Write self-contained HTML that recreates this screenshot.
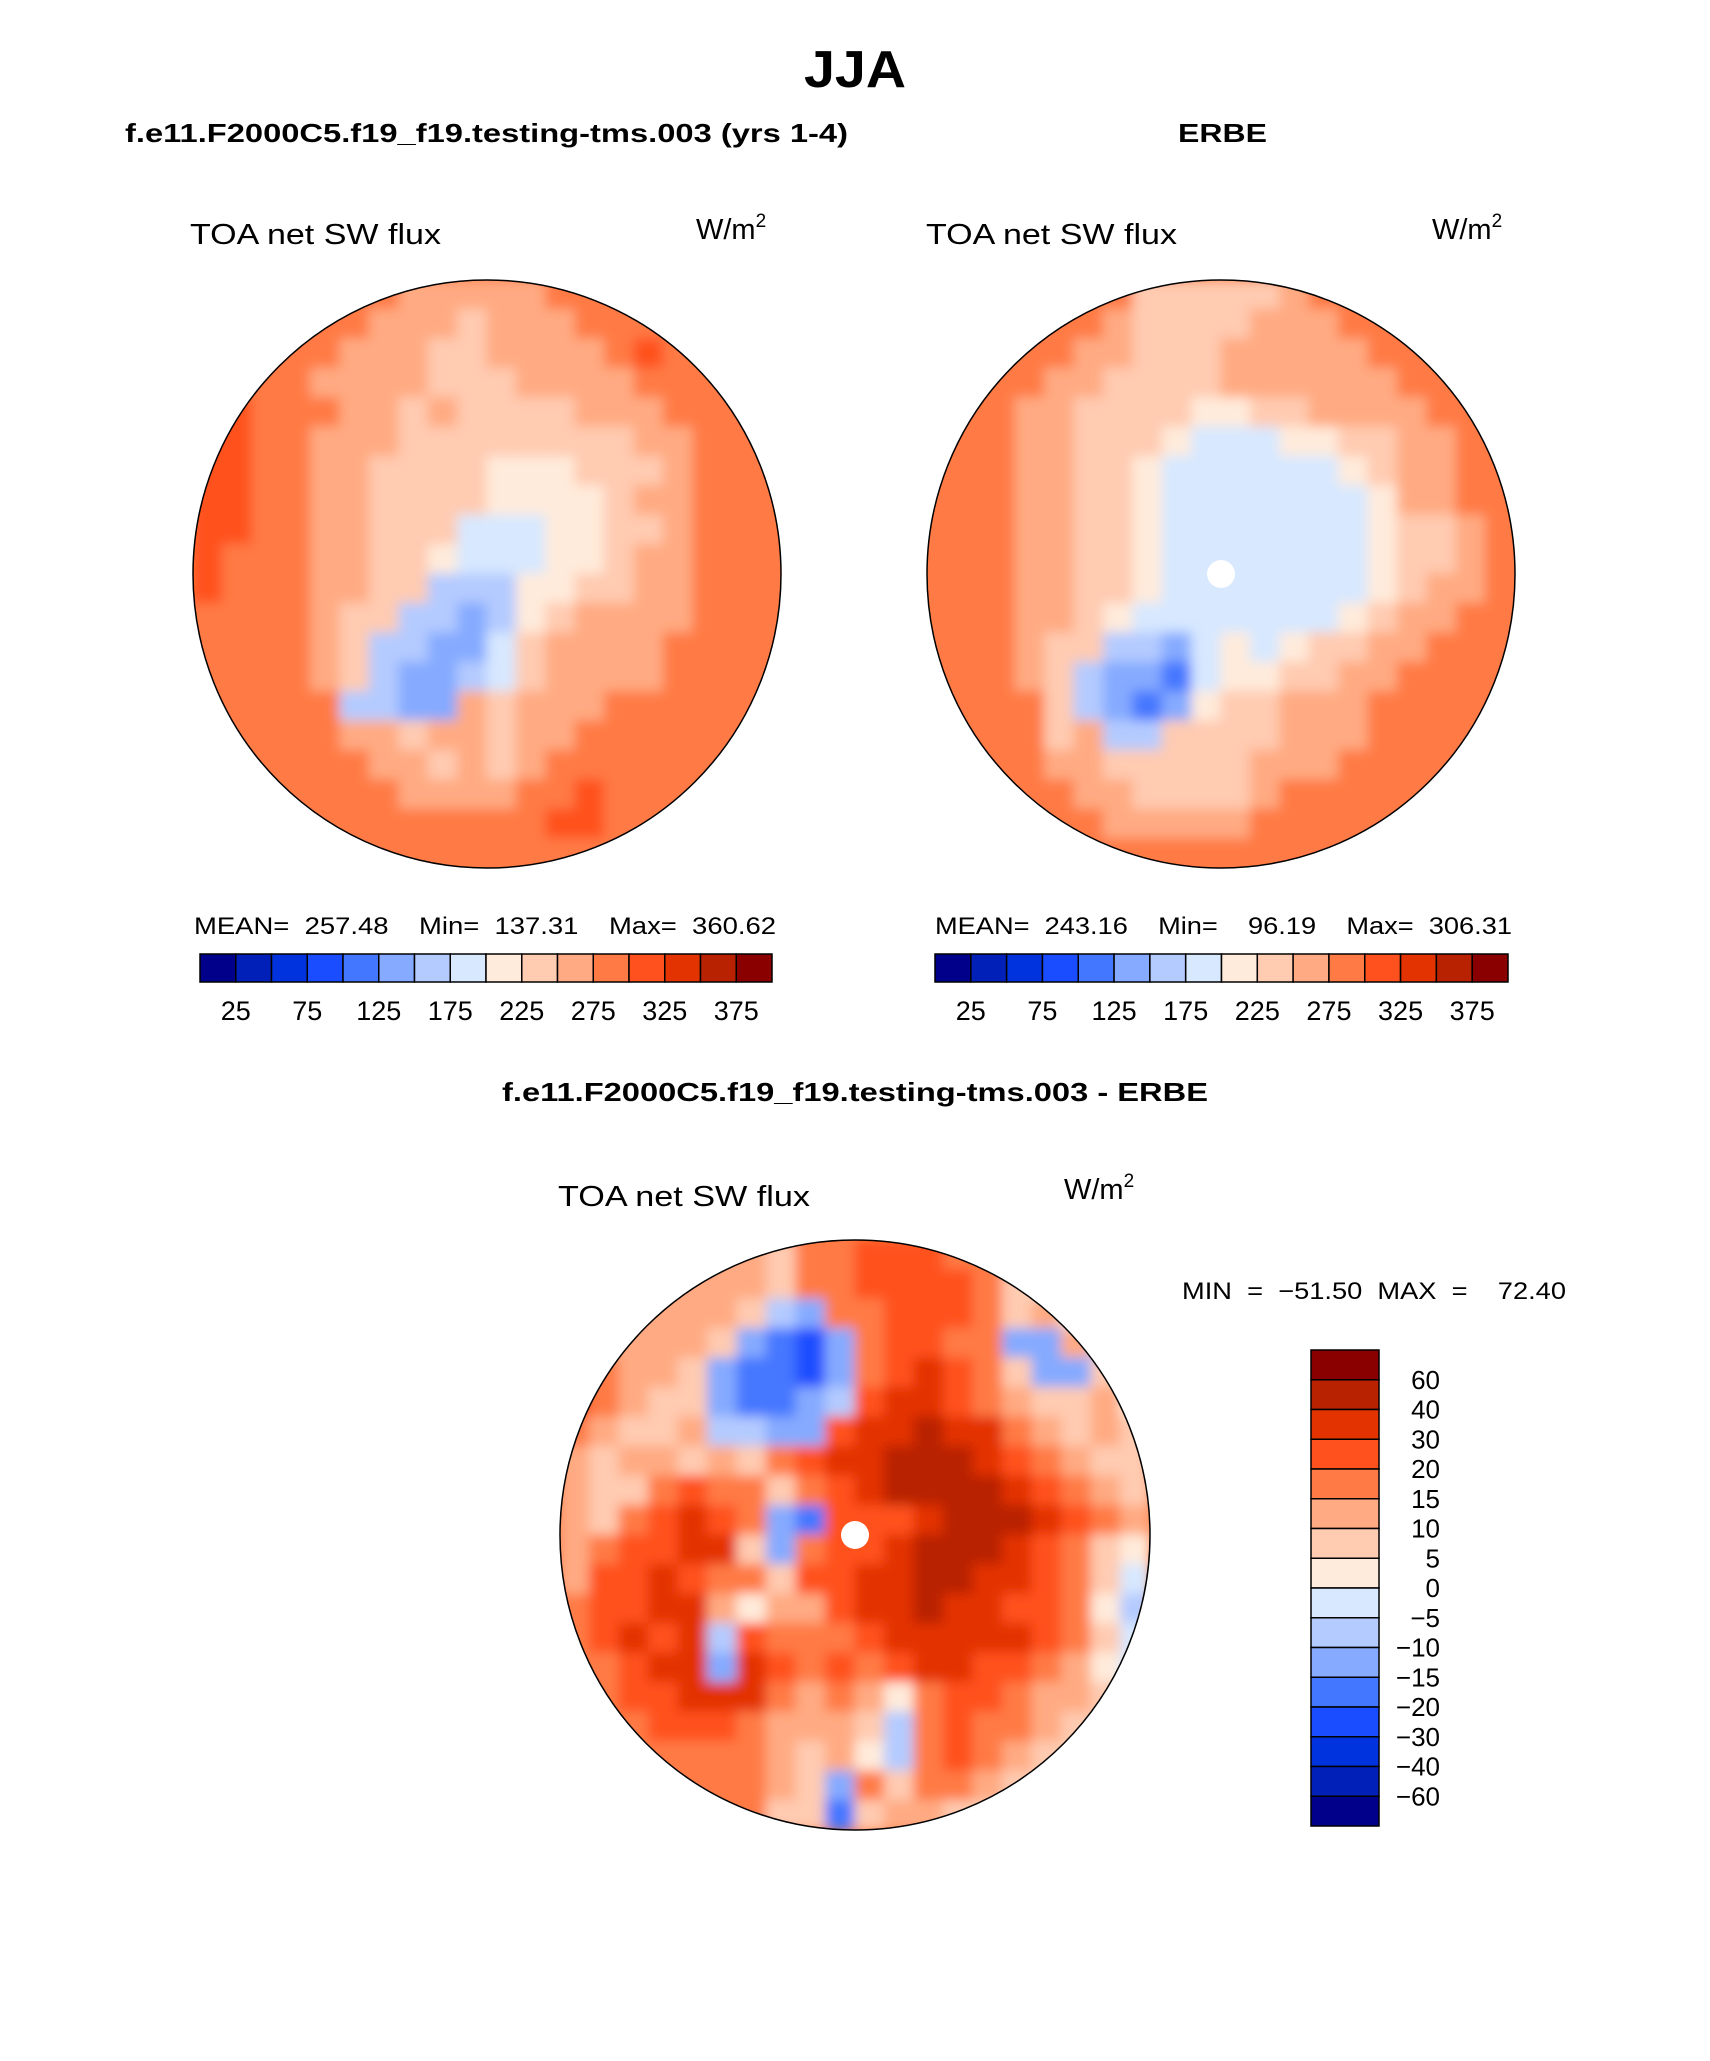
<!DOCTYPE html>
<html><head><meta charset="utf-8"><style>
html,body{margin:0;padding:0;background:#fff}
svg{display:block}
text{font-family:"Liberation Sans",sans-serif;fill:#000;white-space:pre}
</style></head><body>
<svg id="fig" width="1710" height="2061" viewBox="0 0 1710 2061" xmlns="http://www.w3.org/2000/svg" xml:space="preserve">
<defs>
<filter id="soft" filterUnits="userSpaceOnUse" x="0" y="0" width="1710" height="2061"><feGaussianBlur stdDeviation="6"/></filter>
<clipPath id="c1"><circle cx="487" cy="574" r="294"/></clipPath>
<clipPath id="c2"><circle cx="1221" cy="574" r="294"/></clipPath>
<clipPath id="c3"><circle cx="855" cy="1535" r="295"/></clipPath>
</defs>
<text x="855" y="87" text-anchor="middle" font-size="52" font-weight="bold" textLength="102" lengthAdjust="spacingAndGlyphs">JJA</text>
<text x="125" y="142" font-size="26" font-weight="bold" textLength="723" lengthAdjust="spacingAndGlyphs">f.e11.F2000C5.f19_f19.testing-tms.003 (yrs 1-4)</text>
<text x="1178" y="142" font-size="26" font-weight="bold" textLength="89" lengthAdjust="spacingAndGlyphs">ERBE</text>
<text x="190" y="244" font-size="29" textLength="251" lengthAdjust="spacingAndGlyphs">TOA net SW flux</text>
<text x="696" y="239" font-size="29">W/m<tspan font-size="19" dy="-12">2</tspan></text>
<text x="926" y="244" font-size="29" textLength="251" lengthAdjust="spacingAndGlyphs">TOA net SW flux</text>
<text x="1432" y="239" font-size="29">W/m<tspan font-size="19" dy="-12">2</tspan></text>
<g id="map1"></g>
<g id="map2"></g>
<text x="194" y="934" font-size="24" textLength="582" lengthAdjust="spacingAndGlyphs">MEAN=  257.48    Min=  137.31    Max=  360.62</text>
<text x="935" y="934" font-size="24" textLength="577" lengthAdjust="spacingAndGlyphs">MEAN=  243.16    Min=    96.19    Max=  306.31</text>
<g id="cb1"></g>
<g id="cb2"></g>
<text x="502" y="1101" font-size="26" font-weight="bold" textLength="706" lengthAdjust="spacingAndGlyphs">f.e11.F2000C5.f19_f19.testing-tms.003 - ERBE</text>
<text x="558" y="1206" font-size="29" textLength="252" lengthAdjust="spacingAndGlyphs">TOA net SW flux</text>
<text x="1064" y="1199" font-size="29">W/m<tspan font-size="19" dy="-12">2</tspan></text>
<g id="map3"></g>
<text x="1182" y="1299" font-size="24" textLength="384" lengthAdjust="spacingAndGlyphs">MIN  =  −51.50  MAX  =    72.40</text>
<g id="cb3"></g>
</svg>
<script>
const colors = ["#00008a","#0020b8","#0033dd","#1a4dff","#4477ff","#85aaff","#b4cbff","#d7e8ff","#ffebdb","#ffcbb1","#ffaa82","#ff7a45","#ff511e","#e33300","#b82200","#8a0000"];
const absTickLabels = ["25","75","125","175","225","275","325","375"];
const diffTickLabels = ["60","40","30","20","15","10","5","0","−5","−10","−15","−20","−30","−40","−60"];
const modelStats = [257.48, 137.31, 360.62];
const obsStats = [243.16, 96.19, 306.31];
const modelGrid = [
"bbbbbbbaaaaabbbbbbbb","bbbbbbaaa9aaabbbbbbb","bbbbbaaa99aaaabcbbbb","bbbbaaaa999aaaabbbbb",
"bcbbbaa9a9999aaabbbb","ccbbaaa99999999aabbb","ccbbaa9999888999abbb","ccbbaa999988889aabbb",
"ccbbaa9997778899abbb","cbbbaa998777889aabbb","cbbbaa996668899aabbb","bbbba99665689aaaabbb",
"bbbba9665579aaaabbbb","bbbba9655679aaaabbbb","bbbbb6655a9aaabbbbbb","bbbbbaa9aa9aabbbbbbb",
"bbbbbbaa9a9abbbbbbbb","bbbbbbbaaaabbcbbbbbb","bbbbbbbbbbbbccbbbbbb","bbbbbbbbbbbbbbbbbbbb"];
const obsGrid = [
"bbbbbbb99999abbbbbbb","bbbbbba9999aaabbbbbb","bbbbbaa999aaaaabbbbb","bbbbaa9999aaaaaabbbb",
"bbbaa99998899aaaabbb","bbbaa99987778899aabb","bbbaa99877777789aabb","bbbaa99877777778aabb",
"bbbaa9987777777899ab","bbbaa9987777777899ab","bbbaa998777777789aab","bbbaa98777777789aabb",
"bbba99665787899aabbb","bbba9655478899aabbbb","bbbb96545899aaabbbbb","bbbb9a669999aaabbbbb",
"bbbbaa99999aaabbbbbb","bbbbbaa9999abbbbbbbb","bbbbbbaaaaabbbbbbbbb","bbbbbbbbbbbbbbbbbbbb"];
const diffGrid = [
"aaaaaaa9bbcccbbbaaaa","aaaaaaa9bbccccb98a98","aaaaaa965bbcccb9a857","aaaaa95435bccbb55a68",
"cbaa954435bcdcb955988","cba9954456cddcba99a8","ba99a6655cddeddba9a9","a9aa9a9bcddeeedcba99",
"a99bcbb9bcdeeeedcba98","a9bcdcb54cccdeeedcba8","abccdd95bccdeeedcb98","accdcbb9ccddeeddcb97",
"bccdda8aacddeddccb86","bcdcd6cbbbcdddddcb97","bbcdd5dcbcbcddccba87","bbccdddbaba8bccbaa98",
"bbbcccbaaa96bcbba998","bbbbbbba9a86bcba9998","bbbbbbba95b9bba99988","bbbbbbb9949aa9998888"];
const NS="http://www.w3.org/2000/svg";
function mk(tag, attrs, parent){const e=document.createElementNS(NS,tag);for(const k in attrs)e.setAttribute(k,attrs[k]);parent.appendChild(e);return e;}
function drawMap(gid, grid, cx, cy, r, clip, pole){
  const g=document.getElementById(gid);
  const outer=mk('g',{'clip-path':'url(#'+clip+')'},g);
  mk('rect',{x:cx-r,y:cy-r,width:2*r,height:2*r,fill:colors[11]},outer);
  const inner=mk('g',{filter:'url(#soft)'},outer);
  const n=grid.length, cs=2*r/n;
  for(let i=0;i<n;i++)for(let j=0;j<20;j++){
    const lv=parseInt(grid[i][j],16);
    const c=mk('rect',{x:cx-r+j*cs-0.5,y:cy-r+i*cs-0.5,width:cs+1,height:cs+1,fill:colors[lv]},inner);
    
    
  }
  if(pole){const p=mk('circle',{cx:cx,cy:cy,r:14,fill:'#fff'},outer);
    
    }
  const b=mk('circle',{cx:cx,cy:cy,r:r,fill:'none',stroke:'#000','stroke-width':1.5},g);
  
  
}
drawMap('map1',modelGrid,487,574,294,'c1',false);
drawMap('map2',obsGrid,1221,574,294,'c2',true);
drawMap('map3',diffGrid,855,1535,295,'c3',true);
function hbar(gid,x0,x1,y0,y1){
  const g=document.getElementById(gid), w=(x1-x0)/colors.length;
  colors.forEach((c,i)=>{const r=mk('rect',{x:x0+i*w,y:y0,width:w,height:y1-y0,fill:c,stroke:'#000','stroke-width':1.5},g);
    
    });
  absTickLabels.forEach((t,k)=>{const tx=mk('text',{x:x0+(2*k+1)*w,y:1020,'text-anchor':'middle','font-size':27},g);tx.textContent=t;
    
    });
}
hbar('cb1',200,772,954,982);
hbar('cb2',935,1508,954,982);
(function(){
  const g=document.getElementById('cb3'), x0=1311,x1=1379,y0=1350,y1=1826,h=(y1-y0)/colors.length;
  colors.slice().reverse().forEach((c,i)=>{const r=mk('rect',{x:x0,y:y0+i*h,width:x1-x0,height:h,fill:c,stroke:'#000','stroke-width':1.5},g);
    
    });
  diffTickLabels.forEach((t,k)=>{const tx=mk('text',{x:1440,y:y0+(k+1)*h+9,'text-anchor':'end','font-size':26},g);tx.textContent=t;
    
    });
})();
</script>
</body></html>
